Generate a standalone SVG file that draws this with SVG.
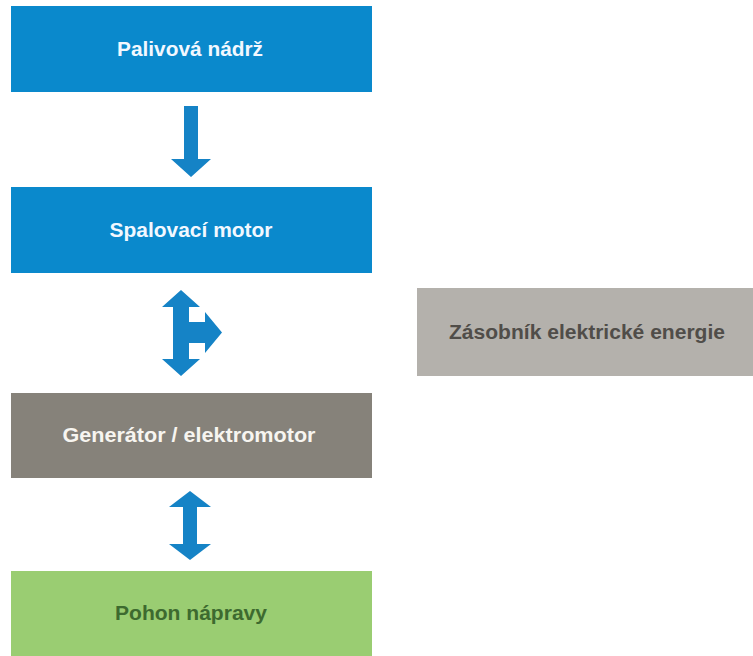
<svg xmlns="http://www.w3.org/2000/svg" width="753" height="656" viewBox="0 0 753 656">
<style>
.lbl{font-family:"Liberation Sans","DejaVu Sans",Arial,sans-serif;font-weight:bold;font-size:20px;text-anchor:middle}
.arr{fill:#1583c6}
</style>
<rect width="753" height="656" fill="#ffffff"/>
<g id="node-palivova">
<rect x="11" y="6" width="361" height="86" fill="#0a89cc"/>
<text class="lbl" x="190" y="56" fill="#f2f8ff" textLength="146" lengthAdjust="spacingAndGlyphs">Palivová nádrž</text>
</g>
<g id="node-spalovaci">
<rect x="11" y="187" width="361" height="86" fill="#0a89cc"/>
<text class="lbl" x="191" y="237" fill="#f2f8ff" textLength="163" lengthAdjust="spacingAndGlyphs">Spalovací motor</text>
</g>
<g id="node-zasobnik">
<rect x="417" y="288" width="336" height="88" fill="#b4b1ac"/>
<text class="lbl" x="587" y="339" fill="#504d49" textLength="276" lengthAdjust="spacingAndGlyphs">Zásobník elektrické energie</text>
</g>
<g id="node-generator">
<rect x="11" y="393" width="361" height="85" fill="#86827a"/>
<text class="lbl" x="189" y="442" fill="#f7f5f0" textLength="253" lengthAdjust="spacingAndGlyphs">Generátor / elektromotor</text>
</g>
<g id="node-pohon">
<rect x="11" y="571" width="361" height="85" fill="#9acd72"/>
<text class="lbl" x="191" y="620" fill="#3d6a2f" textLength="152" lengthAdjust="spacingAndGlyphs">Pohon nápravy</text>
</g>
<g id="connectors">
<path class="arr" d="M184,106 H198 V159 H211 L191,177 L171,159 H184 Z"/>
<path class="arr" d="M181,290 L200,307 H189 V322 H205 V312 L222,332.5 L205,353 V343 H189 V359 H200 L181,376 L162,359 H173 V307 H162 Z"/>
<path class="arr" d="M190,491 L211,507 H197 V544 H211 L190,560 L169,544 H183 V507 H169 Z"/>
</g>
</svg>
